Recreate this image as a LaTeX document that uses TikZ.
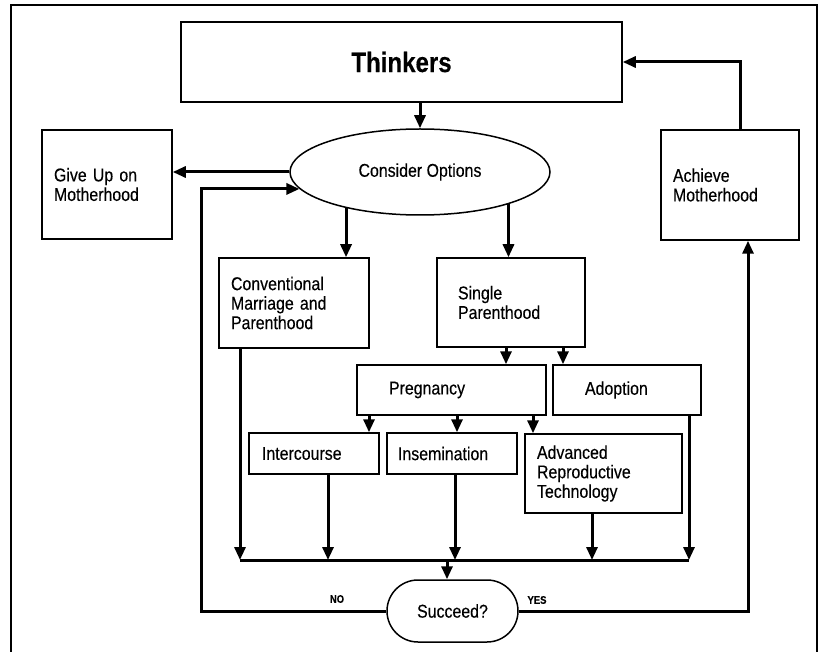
\documentclass[tikz,border=0pt]{standalone}
\usepackage{fontspec}
\setmainfont{Liberation Sans}
\newfontfamily\narrowfont[FakeStretch=0.86,FakeBold=0.3]{Liberation Sans}
\usetikzlibrary{shapes.geometric,shapes.misc,arrows.meta,positioning}

\begin{document}
\begin{tikzpicture}[
    x=1pt, y=-1pt,
    box/.style={rectangle, draw, line width=1.5pt, inner sep=0pt, align=left, font=\narrowfont\fontsize{18.5}{19.5}\selectfont},
    oval/.style={ellipse, draw, line width=1.5pt, inner sep=0pt, font=\narrowfont\fontsize{18.5}{19.5}\selectfont},
    arr/.style={-{Triangle[length=13pt,width=11pt]}, line width=3pt},
    wire/.style={line width=3pt},
    tag/.style={font=\narrowfont\bfseries\fontsize{11}{12}\selectfont, inner sep=0pt}
]
\useasboundingbox (0,0) rectangle (819,652);

% Frame
\draw[line width=1.2pt] (11,652) -- (11,5) -- (817,5) -- (817,652);

% Top
\node[box, minimum width=441pt, minimum height=80pt, font=\narrowfont\bfseries\fontsize{28}{30}\selectfont] (thinkers) at (401.5,62) {Thinkers};
\node[oval, minimum width=260pt, minimum height=86pt] (consider) at (420,172) {Consider Options};

% Outcomes
\node[box, minimum width=130pt, minimum height=109pt, text width=106pt] (giveup) at (107,184.5) {Give Up on\\Motherhood};
\node[box, minimum width=138pt, minimum height=110pt, text width=114pt] (achieve) at (730,185) {Achieve\\Motherhood};

% Options
\node[box, minimum width=150pt, minimum height=90pt, text width=126pt] (conv) at (294,303) {Conventional\\Marriage and\\Parenthood};
\node[box, minimum width=148pt, minimum height=89pt, text width=106pt] (single) at (511,302.5) {Single\\Parenthood};
\node[box, minimum width=189pt, minimum height=50pt, text width=125pt] (preg) at (451.5,390) {Pregnancy};
\node[box, minimum width=148pt, minimum height=50pt, text width=84pt] (adopt) at (627,390) {Adoption};

% Methods
\node[box, minimum width=130pt, minimum height=41pt, text width=104pt] (inter) at (314,453.5) {Intercourse};
\node[box, minimum width=130pt, minimum height=41pt, text width=108pt] (insem) at (452,453.5) {Insemination};
\node[box, minimum width=157pt, minimum height=79pt, text width=133pt] (art) at (603.5,473.5) {Advanced\\Reproductive\\Technology};

% Result
\node[rounded rectangle, draw, line width=1.5pt, inner sep=0pt, minimum width=131pt, minimum height=62pt, font=\narrowfont\fontsize{18.5}{19.5}\selectfont] (succeed) at (452.5,611) {Succeed?};
\node[tag] (no) at (337,599) {NO};
\node[tag] (yes) at (537,600) {YES};

\coordinate (bus) at (447,560);
\coordinate (leftrail) at (201,0);

% Main flow
\draw[arr] (consider.north |- thinkers.south) -- (consider.north);
\draw[arr] (consider.west) -- (consider.west -| giveup.east);
\draw[arr] (consider.206) -- (consider.206 |- conv.north);
\draw[arr] (consider.-20) -- (consider.-20 |- single.north);
\draw[arr] ([xshift=-5pt]single.south) -- ([xshift=-5pt]single.south |- preg.north);
\draw[arr] ([xshift=52pt]single.south) -- ([xshift=52pt]single.south |- adopt.north);
\draw[arr] ([xshift=-82.5pt]preg.south) -- ([xshift=-82.5pt]preg.south |- inter.north);
\draw[arr] ([xshift=5.5pt]preg.south) -- ([xshift=5.5pt]preg.south |- insem.north);
\draw[arr] ([xshift=81.5pt]preg.south) -- ([xshift=81.5pt]preg.south |- art.north);

% Into the bus
\draw[arr] ([xshift=-54pt]conv.south) -- ([xshift=-54pt]conv.south |- bus);
\draw[arr] ([xshift=14pt]inter.south) -- ([xshift=14pt]inter.south |- bus);
\draw[arr] ([xshift=3pt]insem.south) -- ([xshift=3pt]insem.south |- bus);
\draw[arr] ([xshift=-11.5pt]art.south) -- ([xshift=-11.5pt]art.south |- bus);
\draw[arr] ([xshift=62pt]adopt.south) -- ([xshift=62pt]adopt.south |- bus);
\draw[wire] ([xshift=-54pt]conv.south |- bus) -- ([xshift=62pt]adopt.south |- bus);
\draw[arr] (bus) -- (bus |- succeed.north);

% Loops
\draw[arr] (succeed.west) -- (succeed.west -| leftrail) |- (consider.188);
\draw[arr] (succeed.east) -| ([xshift=18pt]achieve.south);
\draw[arr] ([xshift=10pt]achieve.north) |- (thinkers.east);

\end{tikzpicture}
\end{document}
